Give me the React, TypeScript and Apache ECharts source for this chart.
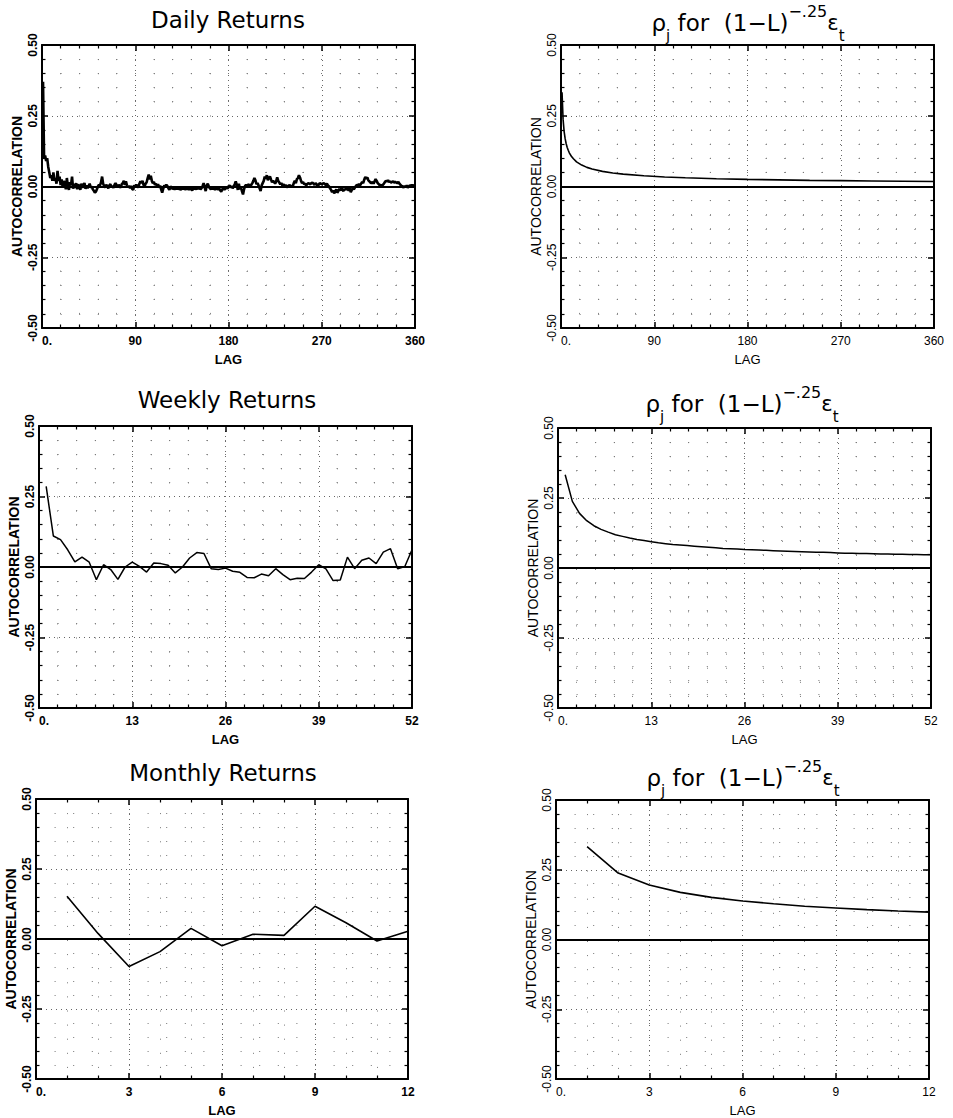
import React, { useEffect, useRef } from "react";
import * as echarts from "echarts";

// ---------- DATA ----------
const dailyTitle = "Daily Returns";
const weeklyTitle = "Weekly Returns";
const monthlyTitle = "Monthly Returns";

const dailyXTicks = [0, 90, 180, 270, 360];
const weeklyXTicks = [0, 13, 26, 39, 52];
const monthlyXTicks = [0, 3, 6, 9, 12];
const yTicks = [-0.5, -0.25, 0, 0.25, 0.5];

// daily return autocorrelations, lags 1..360
const dailyValues = [
  0.37, 0.10, 0.11, 0.09, 0.10, 0.07, 0.05, 0.03, 0.04, 0.02,
  0.05, 0.02, 0.03, 0.01, 0.055, 0.02, 0.035, 0.005, 0.025, -0.005,
  0.02, 0.01, -0.01, 0.03, 0.0, -0.012, 0.015, 0.005, 0.035, -0.008,
  0.01, -0.005, 0.012, -0.01, 0.008, 0.0, -0.012, 0.01, -0.005, 0.005,
  0.012, -0.008, 0.004, -0.006, 0.002, 0.01, -0.004, 0.0, -0.01, -0.015,
  -0.022, -0.018, -0.01, 0.0, 0.006, 0.004, 0.015, 0.035, 0.01, 0.002,
  -0.004, 0.006, 0.0, -0.006, 0.004, 0.008, -0.003, 0.002, -0.005, 0.006,
  0.012, 0.004, -0.002, 0.006, 0.0, -0.004, 0.008, 0.012, 0.02, 0.006,
  0.018, 0.004, -0.002, 0.003, -0.006, 0.002, -0.008, -0.012, 0.004, 0.0,
  0.006, 0.002, -0.004, 0.01, 0.018, 0.012, 0.02, 0.006, 0.0, 0.01,
  0.015, 0.03, 0.042, 0.025, 0.038, 0.02, 0.012, 0.016, 0.006, 0.01,
  0.002, 0.008, -0.004, 0.003, -0.01, -0.022, -0.008, 0.004, 0.0, 0.006,
  0.002, -0.006, -0.012, 0.0, -0.004, -0.008, -0.006, -0.01, -0.006, -0.008,
  -0.004, -0.01, -0.007, -0.012, -0.006, -0.009, -0.005, -0.011, -0.007, -0.01,
  -0.006, -0.012, -0.004, -0.008, -0.014, -0.004, -0.008, -0.006, -0.01, -0.005,
  -0.008, -0.004, -0.01, -0.006, 0.002, 0.012, -0.004, -0.016, 0.004, 0.01,
  0.0, -0.006, -0.01, -0.004, -0.008, -0.006, -0.012, -0.004, -0.008, -0.01,
  -0.006, -0.014, -0.018, -0.01, -0.004, -0.012, -0.006, -0.002, -0.008, 0.0,
  0.004, -0.004, 0.002, -0.006, 0.0, 0.008, 0.018, 0.005, -0.012, 0.01,
  -0.01, -0.004, -0.016, -0.028, -0.01, 0.002, 0.006, 0.0, 0.008, 0.004,
  0.0, 0.006, 0.012, 0.02, 0.03, 0.022, 0.008, 0.012, 0.004, -0.006,
  -0.016, 0.004, 0.012, 0.02, 0.035, 0.028, 0.04, 0.022, 0.03, 0.036,
  0.025, 0.015, 0.02, 0.016, 0.01, 0.018, 0.032, 0.02, 0.014, 0.008,
  0.012, 0.004, 0.008, 0.002, 0.006, -0.004, 0.004, 0.0, 0.006, -0.002,
  0.004, 0.0, 0.012, 0.02, 0.012, 0.026, 0.03, 0.04, 0.032, 0.02,
  0.012, 0.016, 0.008, 0.01, 0.004, 0.008, 0.012, 0.01, 0.008, 0.012,
  0.014, 0.01, 0.006, 0.012, 0.008, 0.002, 0.006, 0.012, 0.01, 0.008,
  0.01, 0.012, 0.008, 0.006, 0.01, 0.004, 0.0, -0.006, -0.012, -0.02,
  -0.014, -0.024, -0.018, -0.01, -0.022, -0.016, -0.008, -0.014, -0.006, -0.012,
  -0.016, -0.008, -0.012, -0.004, -0.01, -0.014, -0.006, -0.02, -0.012, -0.006,
  -0.01, -0.004, 0.002, 0.006, 0.004, 0.008, 0.004, 0.01, 0.016, 0.012,
  0.024, 0.034, 0.028, 0.032, 0.022, 0.018, 0.014, 0.012, 0.016, 0.01,
  0.018, 0.026, 0.02, 0.012, 0.008, 0.004, 0.006, 0.002, 0.006, 0.01,
  0.016, 0.02, 0.018, 0.022, 0.016, 0.018, 0.014, 0.016, 0.018, 0.014,
  0.016, 0.014, 0.012, 0.016, 0.01, 0.006, 0.002, 0.0, -0.004, 0.002,
  -0.002, 0.004, -0.004, 0.0, 0.004, 0.002, 0.006, 0.0, 0.004, 0.006,
];

// weekly return autocorrelations, lags 1..52
const weeklyValues = [
  0.286, 0.11, 0.097, 0.061, 0.018, 0.035, 0.017, -0.045, 0.008, -0.009,
  -0.044, 0.0, 0.017, 0.002, -0.018, 0.014, 0.012, 0.006, -0.021, 0.0,
  0.032, 0.051, 0.048, -0.006, -0.009, -0.004, -0.015, -0.019, -0.037, -0.038,
  -0.025, -0.031, -0.006, -0.027, -0.045, -0.04, -0.041, -0.018, 0.008, -0.007,
  -0.048, -0.046, 0.035, -0.006, 0.024, 0.032, 0.012, 0.053, 0.065, -0.006,
  0.002, 0.061,
];

// monthly return autocorrelations, lags 1..12
const monthlyValues = [0.153, 0.02, -0.098, -0.045, 0.038, -0.024, 0.017, 0.013, 0.117, 0.058, -0.007, 0.028];

// rho_j for (1-L)^-.25 e_t
const rhoDailyLags = [1, 2, 3, 4, 5, 6, 7, 8, 10, 12, 15, 20, 25, 30, 40, 50, 60, 80, 100, 120, 150, 180, 210, 240, 270, 300, 330, 360];
const rhoDailyValues = [0.333, 0.238, 0.195, 0.169, 0.151, 0.138, 0.128, 0.119, 0.107, 0.098, 0.087, 0.0756, 0.0676, 0.0617, 0.0534, 0.0478, 0.0436, 0.0378, 0.0338, 0.0309, 0.0276, 0.0252, 0.0233, 0.0218, 0.0206, 0.0195, 0.0186, 0.0178];

const rhoWeeklyValues = [
  0.333, 0.238, 0.195, 0.169, 0.151, 0.138, 0.128, 0.119, 0.113, 0.107,
  0.102, 0.098, 0.094, 0.090, 0.087, 0.084, 0.082, 0.080, 0.078, 0.076,
  0.074, 0.072, 0.070, 0.069, 0.068, 0.066, 0.065, 0.064, 0.063, 0.062,
  0.061, 0.060, 0.059, 0.058, 0.057, 0.056, 0.056, 0.055, 0.054, 0.053,
  0.053, 0.052, 0.052, 0.051, 0.050, 0.050, 0.049, 0.049, 0.048, 0.048,
  0.047, 0.047,
];

const rhoMonthlyValues = [0.333, 0.238, 0.195, 0.169, 0.151, 0.138, 0.128, 0.119, 0.113, 0.107, 0.102, 0.098];

// ---------- LAYOUT ----------
type Panel = {
  grid: { left: number; top: number; width: number; height: number };
  xTicks: number[];
  minorX: number;
  data: number[][];
  lineWidth: number;
  bold: boolean;
};

const pairs = (vals: number[]) => vals.map((v, i) => [i + 1, v]);

const panels: Panel[] = [
  { grid: { left: 42, top: 45, width: 373, height: 283 }, xTicks: dailyXTicks, minorX: 5, data: pairs(dailyValues), lineWidth: 2.6, bold: true },
  { grid: { left: 561, top: 45, width: 373, height: 283 }, xTicks: dailyXTicks, minorX: 5, data: rhoDailyLags.map((l, i) => [l, rhoDailyValues[i]]), lineWidth: 1.6, bold: false },
  { grid: { left: 39, top: 426, width: 373, height: 282 }, xTicks: weeklyXTicks, minorX: 5, data: pairs(weeklyValues), lineWidth: 1.5, bold: true },
  { grid: { left: 558, top: 428, width: 373, height: 280 }, xTicks: weeklyXTicks, minorX: 5, data: pairs(rhoWeeklyValues), lineWidth: 1.5, bold: false },
  { grid: { left: 36, top: 799, width: 372, height: 282 }, xTicks: monthlyXTicks, minorX: 3, data: pairs(monthlyValues), lineWidth: 1.6, bold: true },
  { grid: { left: 556, top: 800, width: 373, height: 280 }, xTicks: monthlyXTicks, minorX: 3, data: pairs(rhoMonthlyValues), lineWidth: 1.6, bold: false },
];

const FONT = "Liberation Sans";
const TITLE_FONT = "DejaVu Sans";

function buildOption() {
  const grids: any[] = [];
  const xAxes: any[] = [];
  const yAxes: any[] = [];
  const series: any[] = [];
  panels.forEach((p, i) => {
    grids.push({ ...p.grid, containLabel: false, show: false });
    const fw = p.bold ? "bold" : "normal";
    const xMin = p.xTicks[0];
    const xMax = p.xTicks[p.xTicks.length - 1];
    const xInt = p.xTicks[1] - p.xTicks[0];
    const yMin = yTicks[0];
    const yMax = yTicks[yTicks.length - 1];
    const yInt = yTicks[1] - yTicks[0];
    const frameLine = { show: true, onZero: false, lineStyle: { color: "#000", width: 2 } };
    const tick = { show: true, inside: true, length: 6, lineStyle: { color: "#000", width: 1.5 } };
    xAxes.push({
      type: "value", gridIndex: i, position: "bottom", min: xMin, max: xMax, interval: xInt,
      axisLine: frameLine, axisTick: tick,
      minorTick: { show: true, splitNumber: p.minorX, length: 3.5, lineStyle: { color: "#000", width: 1.2 } },
      axisLabel: {
        show: true, margin: 7, color: "#000", fontFamily: FONT, fontWeight: fw, fontSize: 12,
        formatter: (v: number) => (v === 0 ? "{z|0.}" : String(v)),
        rich: { z: { fontFamily: FONT, fontWeight: fw, fontSize: 12, color: "#000", padding: [0, 0, 0, 10] } },
      },
      splitLine: { show: true, lineStyle: { color: "#666", type: [1, 4], width: 1 } },
      minorSplitLine: { show: true, lineStyle: { color: "#777", type: [1, 13.1], width: 1 } },
      name: "LAG", nameLocation: "middle", nameGap: 25,
      nameTextStyle: { color: "#000", fontFamily: FONT, fontWeight: fw, fontSize: 13 },
    });
    xAxes.push({
      type: "value", gridIndex: i, position: "top", min: xMin, max: xMax, interval: xInt,
      axisLine: frameLine, axisTick: tick,
      minorTick: { show: true, splitNumber: p.minorX, length: 3.5, lineStyle: { color: "#000", width: 1.2 } },
      axisLabel: { show: false }, splitLine: { show: false },
    });
    yAxes.push({
      type: "value", gridIndex: i, position: "left", min: yMin, max: yMax, interval: yInt,
      axisLine: frameLine, axisTick: tick,
      minorTick: { show: true, splitNumber: 5, length: 3.5, lineStyle: { color: "#000", width: 1.2 } },
      axisLabel: {
        show: true, rotate: 90, margin: 3, color: "#000", fontFamily: FONT, fontWeight: fw, fontSize: 12,
        formatter: (v: number) => v.toFixed(2),
      },
      splitLine: { show: true, lineStyle: { color: "#666", type: [1, 4], width: 1 } },
      minorSplitLine: { show: true, lineStyle: { color: "#777", type: [1, 17.6], width: 1 } },
      name: "AUTOCORRELATION", nameLocation: "middle", nameGap: 18, nameRotate: 90,
      nameTextStyle: { color: "#000", fontFamily: FONT, fontWeight: fw, fontSize: 14 },
    });
    yAxes.push({
      type: "value", gridIndex: i, position: "right", min: yMin, max: yMax, interval: yInt,
      axisLine: frameLine, axisTick: tick,
      minorTick: { show: true, splitNumber: 5, length: 3.5, lineStyle: { color: "#000", width: 1.2 } },
      axisLabel: { show: false }, splitLine: { show: false },
    });
    series.push({
      type: "line", xAxisIndex: 2 * i, yAxisIndex: 2 * i, data: p.data,
      showSymbol: false, symbol: "none", silent: true,
      lineStyle: { color: "#000", width: p.lineWidth },
      markLine: {
        silent: true, symbol: ["none", "none"], label: { show: false },
        lineStyle: { color: "#000", type: "solid", width: 1.8 },
        data: [{ yAxis: 0 }],
      },
      z: 3,
    });
  });

  const leftTitle = (text: string, x: number, y: number) => ({
    type: "text", x, y, z: 10,
    style: { text, align: "center", verticalAlign: "middle", fill: "#000", fontFamily: TITLE_FONT, fontWeight: "normal", fontSize: 23 },
  });
  const rhoText = "{r|ρ}{sb|j}{m| for  (1−L)}{sp|−.25}{e|ε}{sb|t}";
  const tok = (fontSize: number, lineHeight: number, va?: string) => ({
    fontFamily: TITLE_FONT, fontWeight: "normal", fontSize, lineHeight, fill: "#000", color: "#000",
    ...(va ? { verticalAlign: va } : {}),
  });
  const rhoRich = {
    r: tok(23, 40),
    m: tok(23, 40),
    e: tok(21, 40),
    sb: tok(15, 24, "bottom"),
    sp: tok(16, 16, "top"),
  };
  const rightTitle = (x: number, y: number) => ({
    type: "text", x, y, z: 10,
    style: { text: rhoText, rich: rhoRich, align: "center", verticalAlign: "middle", fill: "#000", fontFamily: TITLE_FONT, fontSize: 23 },
  });

  return {
    animation: false,
    backgroundColor: "#fff",
    grid: grids,
    xAxis: xAxes,
    yAxis: yAxes,
    series,
    graphic: [
      leftTitle(dailyTitle, 228, 20),
      leftTitle(weeklyTitle, 227, 400),
      leftTitle(monthlyTitle, 223, 773),
      rightTitle(748, 23),
      rightTitle(742, 404),
      rightTitle(743, 778),
    ],
  };
}

export default function App() {
  const ref = useRef<HTMLDivElement>(null);
  useEffect(() => {
    if (!ref.current) return;
    const chart = echarts.init(ref.current, undefined, { renderer: "svg" });
    chart.setOption(buildOption() as any);
    return () => chart.dispose();
  }, []);
  return (
    <div
      ref={ref}
      style={{ position: "absolute", left: 0, top: 0, width: 953, height: 1118, background: "#fff" }}
    />
  );
}
